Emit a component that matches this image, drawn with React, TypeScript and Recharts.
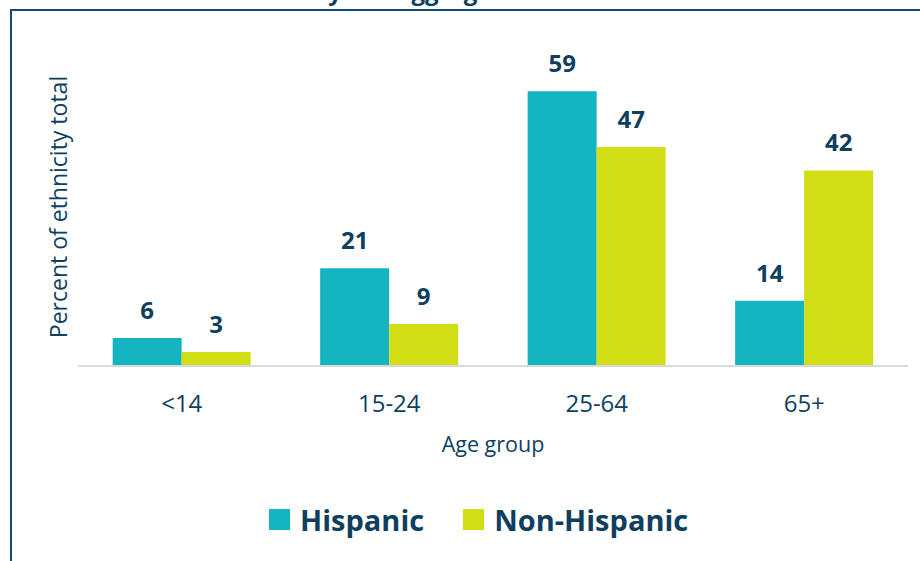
import React from "react";
import {
  BarChart,
  Bar,
  XAxis,
  YAxis,
  Legend,
  LabelList,
} from "recharts";

const ageGroups = ["<14", "15-24", "25-64", "65+"];
const hispanic = [6, 21, 59, 14];
const nonHispanic = [3, 9, 47, 42];

const TEAL = "#14b4c0";
const LIME = "#d1de15";
const NAVY = "#0e3f5f";
const FONT = "'Open Sans', 'Noto Sans', sans-serif";

const chartData = ageGroups.map((age, i) => ({
  age,
  hispanic: hispanic[i],
  nonHispanic: nonHispanic[i],
}));

// legend drawn by hand so the swatches sit like the original
function LegendBox() {
  const item = (color: string, text: string, gap: number) => (
    <div style={{ display: "flex", alignItems: "center", marginRight: gap }}>
      <div style={{ width: 21, height: 21, background: color, marginRight: 10 }} />
      <span style={{ fontSize: 29, fontWeight: 700, color: NAVY, fontFamily: FONT }}>
        {text}
      </span>
    </div>
  );
  return (
    <div style={{ display: "flex", alignItems: "center" }}>
      {item(TEAL, "Hispanic", 39)}
      {item(LIME, "Non-Hispanic", 0)}
    </div>
  );
}

export default function App() {
  return (
    <div
      style={{
        position: "absolute",
        left: 0,
        top: 0,
        width: 920,
        height: 561,
        background: "#fff",
        overflow: "hidden",
        fontFamily: FONT,
      }}
    >
      {/* title sits mostly above the crop, only descenders show */}
      <svg width={920} height={10} style={{ position: "absolute", left: 0, top: 0 }}>
        <text x={342} y={0} textAnchor="end" fontSize={24} fontWeight={700} fill={NAVY} fontFamily={FONT}>
          Distribution by
        </text>
        <text x={397} y={0} fontSize={24} fontWeight={700} fill={NAVY} fontFamily={FONT}>
          aggregated
        </text>
      </svg>
      <div
        style={{
          position: "absolute",
          left: 10,
          top: 9,
          width: 920,
          height: 561,
          borderTop: "2px solid #0f4d6e",
          borderLeft: "2px solid #0f4d6e",
        }}
      />
      <div style={{ position: "absolute", left: 0, top: 0 }}>
        <BarChart
          width={920}
          height={561}
          data={chartData}
          margin={{ top: 40, right: 12, bottom: 105, left: 0 }}
          barCategoryGap="16.7%"
          barGap={0}
        >
          <XAxis
            dataKey="age"
            height={90}
            tickLine={false}
            axisLine={{ stroke: "#d9d9d9", strokeWidth: 2 }}
            tickMargin={23}
            tick={{ fill: NAVY, fontSize: 24, fontFamily: FONT }}
            label={{
              value: "Age group",
              position: "insideBottom",
              offset: 4,
              fill: NAVY,
              fontSize: 21.5,
              fontFamily: FONT,
            }}
          />
          <YAxis
            width={78}
            domain={[0, 70]}
            tick={false}
            tickLine={false}
            axisLine={false}
            label={{
              value: "Percent of ethnicity total",
              angle: -90,
              position: "center",
              dx: 20,
              dy: 4,
              fill: NAVY,
              fontSize: 23,
              fontFamily: FONT,
            }}
          />
          <Legend
            layout="horizontal"
            verticalAlign="middle"
            align="center"
            wrapperStyle={{ top: 500, left: 269, width: 500 }}
            content={() => <LegendBox />}
          />
          <Bar dataKey="hispanic" name="Hispanic" fill={TEAL} isAnimationActive={false}>
            <LabelList
              dataKey="hispanic"
              position="top"
              offset={19}
              fill={NAVY}
              fontSize={24}
              fontWeight={700}
              fontFamily={FONT}
            />
          </Bar>
          <Bar dataKey="nonHispanic" name="Non-Hispanic" fill={LIME} isAnimationActive={false}>
            <LabelList
              dataKey="nonHispanic"
              position="top"
              offset={19}
              fill={NAVY}
              fontSize={24}
              fontWeight={700}
              fontFamily={FONT}
            />
          </Bar>
        </BarChart>
      </div>
    </div>
  );
}
